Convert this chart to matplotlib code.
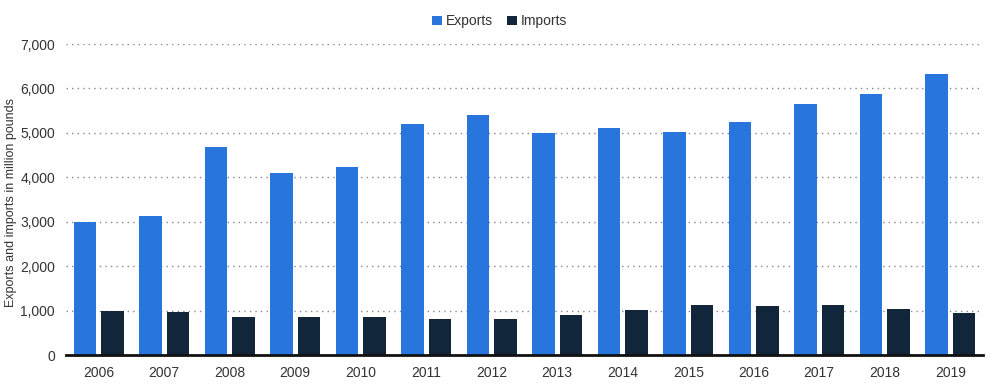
import matplotlib
matplotlib.use("Agg")
import matplotlib.pyplot as plt
import numpy as np
from matplotlib.ticker import FuncFormatter

years = ["2006", "2007", "2008", "2009", "2010", "2011", "2012", "2013",
         "2014", "2015", "2016", "2017", "2018", "2019"]
exports = [3000, 3140, 4680, 4100, 4230, 5200, 5400, 5000, 5100, 5020, 5245, 5645, 5880, 6330]
imports = [1000, 975, 845, 845, 860, 800, 800, 890, 1015, 1120, 1097, 1120, 1045, 948]

plt.rcParams['font.family'] = ['Liberation Sans', 'DejaVu Sans']

fig = plt.figure(figsize=(10, 3.9), dpi=100)
ax = fig.add_axes([0.066, 0.0897, 0.917, 0.7974])

x = np.arange(len(years))
w = 0.35
off = 0.21
ax.bar(x - off, exports, width=w, color="#2876DD", label="Exports", zorder=3)
ax.bar(x + off, imports, width=w, color="#12263B", label="Imports", zorder=3)

ax.set_xlim(-0.5, len(years) - 0.5)
ax.set_ylim(0, 7000)
ax.set_yticks(np.arange(0, 7001, 1000))
ax.yaxis.set_major_formatter(FuncFormatter(lambda v, p: f"{int(v):,}"))
ax.set_xticks(x)
ax.set_xticklabels(years)
ax.tick_params(axis='both', length=0, labelsize=10, colors="#333333")
ax.tick_params(axis='x', pad=8)
ax.tick_params(axis='y', pad=8)
ax.grid(axis='y', linestyle=(0, (1, 3)), color="#888888", linewidth=1, zorder=0)
for s in ["top", "right", "left"]:
    ax.spines[s].set_visible(False)
ax.spines["bottom"].set_linewidth(2)
ax.spines["bottom"].set_color("#111111")
ax.spines["bottom"].set_zorder(4)

ax.set_ylabel("Exports and imports in million pounds", fontsize=9, color="#333333")
ax.yaxis.set_label_coords(-0.053, 0.49)

leg = fig.legend(loc="upper center", bbox_to_anchor=(0.5, 0.995), ncol=2, frameon=False,
                 fontsize=10, handlelength=0.7, handleheight=0.7, handletextpad=0.3,
                 columnspacing=1.0)
for t in leg.get_texts():
    t.set_color("#333333")

fig.savefig("out.png", dpi=100)
